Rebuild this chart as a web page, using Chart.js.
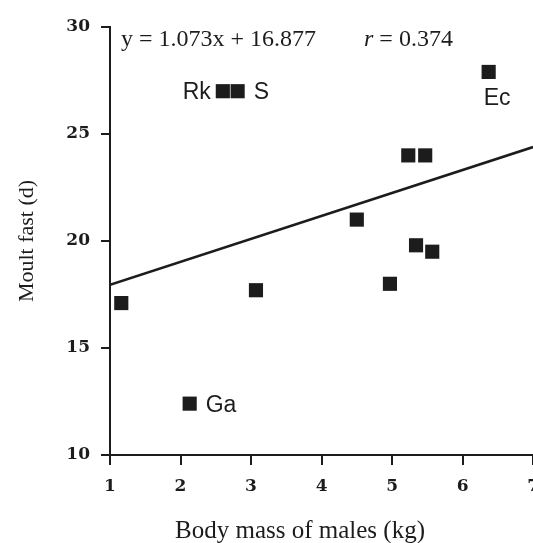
<!DOCTYPE html>
<html>
<head>
<meta charset="utf-8">
<script src="https://cdn.jsdelivr.net/npm/chart.js@4"></script>
<style>
  html, body { margin: 0; padding: 0; background: #fff; overflow: hidden; }
  #wrap { width: 533px; height: 543px; overflow: hidden; }
</style>
</head>
<body>
<div id="wrap"><canvas id="moultPlot" width="550" height="543"></canvas></div>
<script>
// body mass of males (kg) vs moult fast (d)
const massKg = [1.16, 2.13, 2.60, 2.81, 3.07, 4.50, 4.97, 5.23, 5.47, 5.34, 5.57, 6.37];
const fastDays = [17.1, 12.4, 27.0, 27.0, 17.7, 21.0, 18.0, 24.0, 24.0, 19.8, 19.5, 27.9];
const species = ['', 'Ga', 'Rk', 'S', '', '', '', '', '', '', '', 'Ec'];

// regression line end points
const fitX = [1, 7];
const fitY = [17.95, 24.39];

const yTicks = [10, 15, 20, 25, 30];
const xTicks = [1, 2, 3, 4, 5, 6, 7];

const ink = '#1c1c1c';

// where each species label sits next to its square
const labelSide = { Rk: 'left', S: 'right', Ga: 'right', Ec: 'below' };

const textPlugin = {
    id: 'plotText',
    afterDraw(chart) {
        const ctx = chart.ctx;
        const xs = chart.scales.x, ys = chart.scales.y;
        ctx.save();
        ctx.fillStyle = ink;
        ctx.textBaseline = 'alphabetic';

        // equation
        ctx.font = '24px "Liberation Serif"';
        ctx.textAlign = 'left';
        ctx.fillText('y = 1.073x + 16.877', 121, 46);
        ctx.font = 'italic 24px "Liberation Serif"';
        ctx.fillText('r', 364, 46);
        const rw = ctx.measureText('r').width;
        ctx.font = '24px "Liberation Serif"';
        ctx.fillText(' = 0.374', 364 + rw, 46);

        // species labels
        ctx.font = '23px "Liberation Sans"';
        species.forEach((name, i) => {
            if (!name) return;
            const px = xs.getPixelForValue(massKg[i]);
            const py = ys.getPixelForValue(fastDays[i]);
            const side = labelSide[name];
            if (side === 'left') {
                ctx.textAlign = 'right';
                ctx.fillText(name, px - 12, py + 8);
            } else if (side === 'right') {
                ctx.textAlign = 'left';
                ctx.fillText(name, px + 16, py + 8);
            } else {
                ctx.textAlign = 'left';
                ctx.fillText(name, px - 5, py + 33);
            }
        });

        // x axis title
        ctx.font = '25px "Liberation Serif"';
        ctx.textAlign = 'center';
        ctx.fillText('Body mass of males (kg)', 300, 538);
        ctx.restore();
    }
};

const ctx = document.getElementById('moultPlot').getContext('2d');
const moultPlot = new Chart(ctx, {
    type: 'scatter',
    data: {
        datasets: [{
            label: 'Species',
            data: massKg.map((m, i) => ({ x: m, y: fastDays[i] })),
            pointStyle: 'rect',
            pointRadius: 10,
            pointHoverRadius: 10,
            backgroundColor: ink,
            borderWidth: 0
        }, {
            type: 'line',
            label: 'Fit',
            data: fitX.map((x, i) => ({ x: x, y: fitY[i] })),
            borderColor: ink,
            borderWidth: 2.5,
            pointRadius: 0,
            fill: false
        }]
    },
    options: {
        responsive: false,
        animation: false,
        events: [],
        layout: { padding: { top: 27, right: 12, bottom: 0, left: 0 } },
        scales: {
            x: {
                type: 'linear',
                min: 1,
                max: 7,
                afterFit: (scale) => { scale.height = 88; },
                afterBuildTicks: (scale) => { scale.ticks = xTicks.map(v => ({ value: v })); },
                border: { display: true, color: ink, width: 2 },
                grid: { drawOnChartArea: false, drawTicks: true, tickLength: 10, color: ink, lineWidth: 2 },
                ticks: {
                    color: ink,
                    padding: 11,
                    font: { family: '"DejaVu Serif"', size: 17, weight: 'bold' }
                }
            },
            y: {
                min: 10,
                max: 30,
                afterFit: (scale) => { scale.width = 110; },
                afterBuildTicks: (scale) => { scale.ticks = yTicks.map(v => ({ value: v })); },
                border: { display: true, color: ink, width: 2 },
                grid: { drawOnChartArea: false, drawTicks: true, tickLength: 9, color: ink, lineWidth: 2 },
                ticks: {
                    color: ink,
                    padding: 11,
                    font: { family: '"DejaVu Serif"', size: 17, weight: 'bold' }
                },
                title: {
                    display: true,
                    text: 'Moult fast (d)',
                    color: ink,
                    padding: { top: 14, bottom: 0 },
                    font: { family: '"Liberation Serif"', size: 22 }
                }
            }
        },
        plugins: {
            legend: { display: false },
            tooltip: { enabled: false }
        }
    },
    plugins: [textPlugin]
});
</script>
</body>
</html>
